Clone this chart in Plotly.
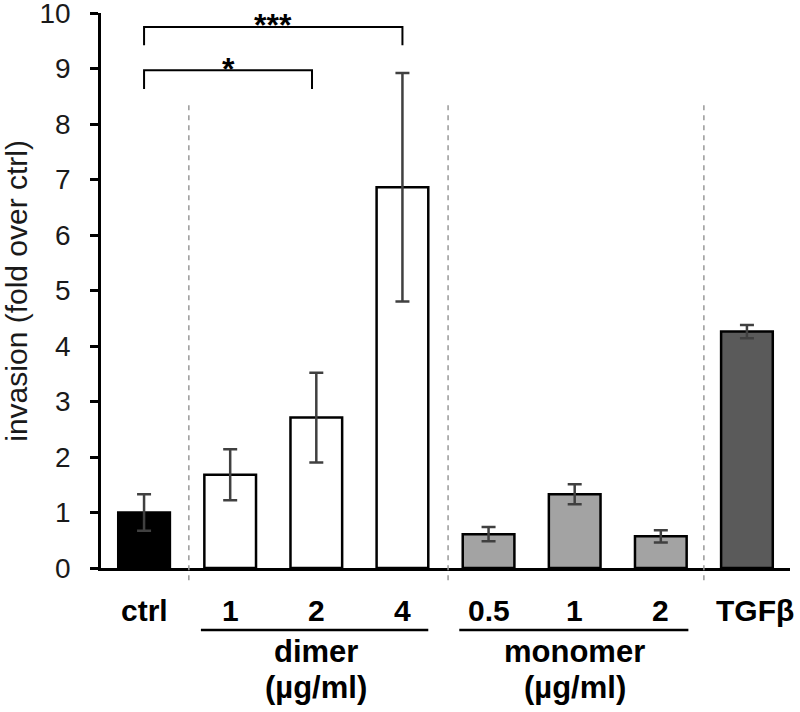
import plotly.graph_objects as go

# ---- data ----
categories = ["ctrl", "1", "2", "4", "0.5", "1", "2", "TGFβ"]
values = [1.00, 1.68, 2.71, 6.86, 0.61, 1.33, 0.57, 4.26]
errors = [0.33, 0.46, 0.81, 2.06, 0.13, 0.18, 0.11, 0.12]
bar_colors = ["#000000", "#ffffff", "#ffffff", "#ffffff",
              "#a3a3a3", "#a3a3a3", "#a3a3a3", "#5a5a5a"]
group_names = ["dimer", "monomer"]
group_centers = [2, 5]
group_spans = [(0.66, 3.30), (3.66, 6.32)]
separators = [0.52, 3.53, 6.5]
brackets = [(0, 1.95, 8.97, 8.63, "*"), (0, 3, 9.75, 9.42, "***")]
y_ticks = list(range(0, 11))

xs = list(range(len(categories)))
FONT = "Liberation Sans, Arial, sans-serif"

fig = go.Figure()
fig.add_trace(go.Bar(
    x=xs, y=values, width=0.6,
    marker=dict(color=bar_colors, line=dict(color="#000000", width=2.5)),
    error_y=dict(type="data", array=errors, visible=True,
                 color="#404040", thickness=2.5, width=7),
    showlegend=False,
))

shapes = []
# dashed separators
for s in separators:
    shapes.append(dict(type="line", xref="x", yref="paper", x0=s, x1=s,
                       y0=-0.022, y1=0.843,
                       line=dict(color="#999999", width=1.5, dash="5px,5px")))
# significance brackets
annotations = []
for x0, x1, ytop, ybot, star in brackets:
    shapes.append(dict(type="path", xref="x", yref="y",
                       path=f"M {x0},{ybot} L {x0},{ytop} L {x1},{ytop} L {x1},{ybot}",
                       line=dict(color="#000000", width=2)))
    annotations.append(dict(x=(x0 + x1) / 2, y=ytop + 0.03, xref="x", yref="y",
                            text=f"<b>{star}</b>", showarrow=False, yanchor="middle",
                            font=dict(family=FONT, size=32, color="#000000")))
# group underlines
for (a, b) in group_spans:
    shapes.append(dict(type="line", xref="x", yref="paper", x0=a, x1=b,
                       y0=-0.1117, y1=-0.1117,
                       line=dict(color="#000000", width=2.5)))

# category labels
for i, c in enumerate(categories):
    annotations.append(dict(x=i, y=-0.0757, xref="x", yref="paper",
                            text=f"<b>{c}</b>", showarrow=False,
                            xanchor="center", yanchor="middle",
                            xshift=8 if c == "TGFβ" else 0,
                            font=dict(family=FONT, size=30, color="#000000")))
# group labels
for name, cx in zip(group_names, group_centers):
    annotations.append(dict(x=cx, y=-0.151, xref="x", yref="paper",
                            text=f"<b>{name}</b>", showarrow=False,
                            xanchor="center", yanchor="middle",
                            font=dict(family=FONT, size=31, color="#000000")))
    annotations.append(dict(x=cx, y=-0.216, xref="x", yref="paper",
                            text="<b>(µg/ml)</b>", showarrow=False,
                            xanchor="center", yanchor="middle",
                            font=dict(family=FONT, size=31, color="#000000")))
# y-axis title
annotations.append(dict(x=-0.123, y=0.5, xref="paper", yref="paper",
                        text="invasion (fold over ctrl)", showarrow=False,
                        textangle=-90, xanchor="center", yanchor="middle",
                        font=dict(family=FONT, size=30, color="#1a1a1a")))

fig.update_layout(
    width=800, height=712,
    margin=dict(l=101, r=10, t=13, b=144),
    paper_bgcolor="#ffffff", plot_bgcolor="#ffffff",
    shapes=shapes, annotations=annotations,
    xaxis=dict(range=[-0.5, 7.5], showticklabels=False, ticks="",
               showgrid=False, zeroline=False, showline=True, automargin=False,
               linecolor="#000000", linewidth=3),
    yaxis=dict(range=[0, 10], tickvals=y_ticks, ticks="outside", ticklen=8,
               tickwidth=2.5, tickcolor="#000000", showgrid=False,
               zeroline=False, showline=True, linecolor="#000000", linewidth=2.5,
               automargin=False, ticklabeloverflow="allow", ticklabelstandoff=14,
               tickfont=dict(family=FONT, size=28, color="#1a1a1a")),
    bargap=0.4,
)

fig.write_html("out.html", config={"displayModeBar": False},
               post_script="document.body.style.margin='0';")
